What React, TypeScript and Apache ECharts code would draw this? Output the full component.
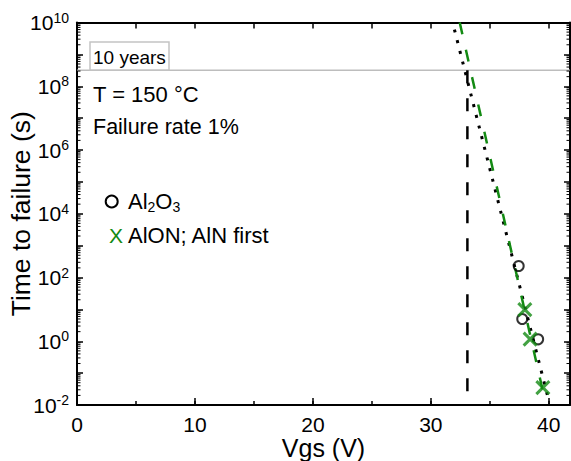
import React, { useEffect, useRef } from "react";
import * as echarts from "echarts";

const FONT = "'Liberation Sans', Arial, Helvetica, sans-serif";

// Axis ranges / ticks
const X_MIN = 0;
const X_MAX = 41.8;
const X_MAJOR = 10;
const X_MINOR = 5;
const Y_MIN = 0.01;
const Y_MAX = 1e10;
const Y_LABEL_EXPONENTS = [-2, 0, 2, 4, 6, 8, 10];

// Reference lines
const TEN_YEARS_S = 3.15e8;
const VGS_10Y = 33.1;

// Measured data: Al2O3 (circles)
const al2o3Vgs = [37.45, 37.75, 39.1];
const al2o3Time = [230, 5, 1.15];

// Measured data: AlON; AlN first (crosses)
const alonVgs = [37.97, 38.42, 39.5];
const alonTime = [9.8, 1.17, 0.035];

// Fit lines (end points)
const al2o3FitVgs = [32.0, 39.92];
const al2o3FitTime = [6e9, 0.018];
const alonFitVgs = [32.45, 39.75];
const alonFitTime = [1e10, 0.0105];

// Minor log ticks 2..9 for each decade
const minorLogTicks: number[] = [];
for (let e = -2; e < 10; e++) {
  for (let m = 2; m <= 9; m++) minorLogTicks.push(m * Math.pow(10, e));
}

const GREEN = "#138a13";

const zip = (a: number[], b: number[]) => a.map((v, i) => [v, b[i]]);

export default function App() {
  const ref = useRef<HTMLDivElement>(null);

  useEffect(() => {
    if (!ref.current) return;
    const chart = echarts.init(ref.current, null, { renderer: "svg" });

    const yLabelFormatter = (value: number) => {
      const e = Math.round(Math.log10(value));
      if (!Y_LABEL_EXPONENTS.includes(e)) return "";
      return `{b|10}{s|${e}}`;
    };

    const yRich = {
      b: { fontSize: 21, fontFamily: FONT, color: "#000", lineHeight: 24 },
      s: { fontSize: 14, fontFamily: FONT, color: "#000", lineHeight: 14, verticalAlign: "top" },
    };

    const option: any = {
      animation: false,
      backgroundColor: "#fff",
      grid: { left: 77, top: 22.5, right: 1, bottom: 56, containLabel: false, outerBoundsMode: "none" },
      xAxis: [
        {
          type: "value",
          position: "bottom",
          min: X_MIN,
          max: X_MAX,
          interval: X_MAJOR,
          axisLine: { show: true, onZero: false, lineStyle: { color: "#000", width: 2 } },
          axisTick: { show: true, inside: true, length: 7, lineStyle: { color: "#000", width: 1.5 } },
          axisLabel: {
            fontSize: 21,
            fontFamily: FONT,
            color: "#000",
            margin: 9,
            showMaxLabel: false,
            formatter: (v: number) => (Math.abs(v % X_MAJOR) < 1e-9 ? String(v) : ""),
          },
          splitLine: { show: false },
          name: "Vgs (V)",
          nameLocation: "middle",
          nameGap: 30,
          nameMoveOverlap: false,
          nameTextStyle: { fontSize: 25, fontFamily: FONT, color: "#000" },
        },
        {
          type: "value",
          position: "bottom",
          min: X_MIN,
          max: X_MAX,
          interval: X_MINOR,
          axisLine: { show: false, onZero: false },
          axisTick: { show: true, inside: true, length: 4, lineStyle: { color: "#000", width: 1.5 } },
          axisLabel: { show: false },
          splitLine: { show: false },
        },
        {
          type: "value",
          position: "top",
          min: X_MIN,
          max: X_MAX,
          interval: X_MINOR,
          axisLine: { show: true, onZero: false, lineStyle: { color: "#000", width: 2 } },
          axisTick: { show: true, inside: true, length: 6, lineStyle: { color: "#000", width: 1.5 } },
          axisLabel: { show: false },
          splitLine: { show: false },
        },
      ],
      yAxis: [
        {
          type: "log",
          logBase: 10,
          position: "left",
          min: Y_MIN,
          max: Y_MAX,
          interval: 1,
          axisLine: { show: true, onZero: false, lineStyle: { color: "#000", width: 2 } },
          axisTick: { show: true, inside: true, length: 6, lineStyle: { color: "#000", width: 1.5 } },
          axisLabel: { formatter: yLabelFormatter, rich: yRich, margin: 8 },
          splitLine: { show: false },
          name: "Time to failure (s)",
          nameLocation: "middle",
          nameGap: 43,
          nameRotate: 90,
          nameMoveOverlap: false,
          nameTextStyle: { fontSize: 26.5, fontFamily: FONT, color: "#000" },
        },
        {
          type: "log",
          logBase: 10,
          position: "right",
          min: Y_MIN,
          max: Y_MAX,
          interval: 1,
          axisLine: { show: true, onZero: false, lineStyle: { color: "#000", width: 2 } },
          axisTick: { show: true, inside: true, length: 6, lineStyle: { color: "#000", width: 1.5 } },
          axisLabel: { show: false },
          splitLine: { show: false },
        },
      ],
      series: [
        {
          type: "custom",
          name: "minorTicks",
          silent: true,
          clip: false,
          data: minorLogTicks.map((v) => [X_MIN, v]),
          encode: { x: 0, y: 1 },
          renderItem: (params: any, api: any) => {
            const v = api.value(1);
            const pl = api.coord([X_MIN, v]);
            const pr = api.coord([X_MAX, v]);
            const st = { stroke: "#000", lineWidth: 1 };
            return {
              type: "group",
              children: [
                { type: "line", shape: { x1: pl[0], y1: pl[1], x2: pl[0] + 3.5, y2: pl[1] }, style: st },
                { type: "line", shape: { x1: pr[0], y1: pr[1], x2: pr[0] - 3.5, y2: pr[1] }, style: st },
              ],
            };
          },
        },
        {
          type: "line",
          name: "10 years",
          data: [
            [X_MIN, TEN_YEARS_S],
            [X_MAX, TEN_YEARS_S],
          ],
          symbol: "none",
          lineStyle: { color: "#bdbdbd", width: 1.5 },
          z: 1,
        },
        {
          type: "line",
          name: "Vgs at 10 years",
          data: [
            [VGS_10Y, TEN_YEARS_S],
            [VGS_10Y, Y_MIN],
          ],
          symbol: "none",
          lineStyle: { color: "#000", width: 2.5, type: [13, 15] },
          z: 2,
        },
        {
          type: "line",
          name: "Al2O3 fit",
          data: zip(al2o3FitVgs, al2o3FitTime),
          symbol: "none",
          lineStyle: { color: "#000", width: 3, type: [3, 8] },
          z: 3,
        },
        {
          type: "line",
          name: "AlON fit",
          data: zip(alonFitVgs, alonFitTime),
          symbol: "none",
          lineStyle: { color: GREEN, width: 2.5, type: [12, 16] },
          z: 3,
        },
        {
          type: "scatter",
          name: "Al2O3",
          data: zip(al2o3Vgs, al2o3Time),
          symbol: "circle",
          symbolSize: 10,
          itemStyle: { color: "rgba(255,255,255,0)", borderColor: "#000", borderWidth: 2 },
          z: 4,
        },
        {
          type: "scatter",
          name: "AlON; AlN first",
          data: zip(alonVgs, alonTime),
          symbol: "path://M0,0L10,10M10,0L0,10",
          symbolSize: 13,
          itemStyle: { color: GREEN, borderColor: GREEN, borderWidth: 3 },
          z: 5,
        },
      ],
      graphic: [
        {
          type: "rect",
          shape: { x: 90, y: 42, width: 79, height: 28 },
          style: { fill: "#fff", stroke: "#c4c4c4", lineWidth: 1.5 },
          z: 10,
        },
        {
          type: "text",
          x: 93,
          y: 57,
          style: { text: "10 years", font: `19px ${FONT}`, fill: "#000", textVerticalAlign: "middle" },
          z: 11,
        },
        {
          type: "text",
          x: 93,
          y: 94,
          style: { text: "T = 150 °C", font: `22px ${FONT}`, fill: "#000", textVerticalAlign: "middle" },
          z: 11,
        },
        {
          type: "text",
          x: 93,
          y: 127,
          style: { text: "Failure rate 1%", font: `21.5px ${FONT}`, fill: "#000", textVerticalAlign: "middle" },
          z: 11,
        },
        {
          type: "circle",
          shape: { cx: 111.7, cy: 201.5, r: 6 },
          style: { fill: "none", stroke: "#000", lineWidth: 2 },
          z: 11,
        },
        {
          type: "text",
          x: 128,
          y: 201,
          style: {
            text: "{n|Al}{u|2}{n|O}{u|3}",
            fill: "#000",
            textVerticalAlign: "middle",
            rich: {
              n: { fontSize: 22, fontFamily: FONT, color: "#000", lineHeight: 26 },
              u: { fontSize: 14, fontFamily: FONT, color: "#000", lineHeight: 14, verticalAlign: "bottom" },
            },
          },
          z: 11,
        },
        {
          type: "text",
          x: 109,
          y: 235,
          style: { text: "X", font: `21px ${FONT}`, fill: GREEN, textVerticalAlign: "middle" },
          z: 11,
        },
        {
          type: "text",
          x: 128,
          y: 235,
          style: { text: "AlON; AlN first", font: `22px ${FONT}`, fill: "#000", textVerticalAlign: "middle" },
          z: 11,
        },
      ],
    };

    chart.setOption(option);
    return () => chart.dispose();
  }, []);

  return (
    <div
      ref={ref}
      style={{ position: "fixed", left: 0, top: 0, width: 571, height: 461, background: "#fff" }}
    />
  );
}
